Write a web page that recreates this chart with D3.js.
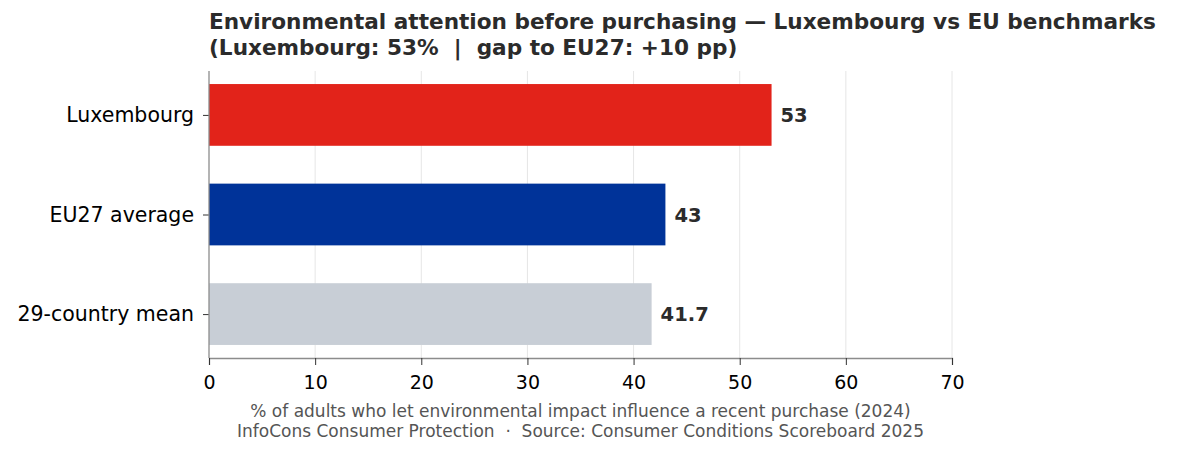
<!DOCTYPE html>
<html><head><meta charset="utf-8">
<script src="https://cdn.jsdelivr.net/npm/d3@7"></script>
<style>body{margin:0;background:#fff;} text{font-family:"DejaVu Sans",sans-serif;white-space:pre;}</style>
</head><body>
<svg id="chart" width="1186" height="456"></svg>
<script>
const categories = ["Luxembourg", "EU27 average", "29-country mean"];
const values = [53, 43, 41.7];
const valueLabels = ["53", "43", "41.7"];
const barColors = ["#e2231a", "#003399", "#c8ced6"];
const xTicks = [0, 10, 20, 30, 40, 50, 60, 70];
const titleLines = ["Environmental attention before purchasing \u2014 Luxembourg vs EU benchmarks", "(Luxembourg: 53%  |  gap to EU27: +10 pp)"];
const captionLines = ["% of adults who let environmental impact influence a recent purchase (2024)", "InfoCons Consumer Protection  \u00b7  Source: Consumer Conditions Scoreboard 2025"];

const svg = d3.select("#chart");
const L = 209, R = 952, T = 71, B = 358;
const x = d3.scaleLinear().domain([0, 70]).range([L, R]);
// categorical positions 0..2 with matplotlib-like margins
const yPos = d3.scaleLinear().domain([-0.441, 2.441]).range([T, B]);
const barH = yPos(0.31) - yPos(-0.31);

// grid
svg.append("g").selectAll("line").data(xTicks.slice(1)).join("line")
  .attr("x1", d => x(d)).attr("x2", d => x(d)).attr("y1", T).attr("y2", B)
  .attr("stroke", "#e6e6e6").attr("stroke-width", 1);

// bars
svg.append("g").selectAll("rect").data(values).join("rect")
  .attr("x", x(0)).attr("y", (d, i) => yPos(i) - barH / 2)
  .attr("width", d => x(d) - x(0)).attr("height", barH)
  .attr("fill", (d, i) => barColors[i]);

// value labels
svg.append("g").selectAll("text").data(values).join("text")
  .attr("x", d => x(d) + 9).attr("y", (d, i) => yPos(i))
  .attr("dy", "0.36em").attr("font-size", 19.5).attr("font-weight", "bold")
  .attr("fill", "#2b2b2b").text((d, i) => valueLabels[i]);

// x axis
const xAxis = d3.axisBottom(x).tickValues(xTicks).tickSize(7).tickPadding(11).tickFormat(d3.format("d"));
const gx = svg.append("g").attr("transform", `translate(0,${B})`).call(xAxis);
gx.select(".domain").attr("stroke", "#8c8c8c").attr("stroke-width", 1.3);
gx.selectAll(".tick line").attr("stroke", "#333");
gx.selectAll(".tick text").attr("font-size", 19).attr("fill", "#000").attr("font-family", "DejaVu Sans");

// y axis
const yBand = d3.scalePoint().domain(categories).range([yPos(0), yPos(2)]);
const yAxis = d3.axisLeft(yBand).tickSize(6).tickPadding(9);
const gy = svg.append("g").attr("transform", `translate(${L},0)`).call(yAxis);
gy.select(".domain").remove();
gy.selectAll(".tick line").attr("stroke", "#333");
gy.selectAll(".tick text").attr("font-size", 20.5).attr("fill", "#000").attr("font-family", "DejaVu Sans");
svg.append("line").attr("x1", L).attr("x2", L).attr("y1", T).attr("y2", B)
  .attr("stroke", "#8c8c8c").attr("stroke-width", 1.3);

// title (two lines)
svg.append("g").selectAll("text").data(titleLines).join("text")
  .attr("x", L).attr("y", (d, i) => 29 + i * 25.8)
  .attr("font-size", 21.6).attr("font-weight", "bold").attr("fill", "#2b2b2b")
  .text(d => d);

// caption (one text, two lines)
const caption = svg.append("text").attr("x", (L + R) / 2).attr("y", 417)
  .attr("text-anchor", "middle").attr("font-size", 17).attr("fill", "#555");
caption.selectAll("tspan").data(captionLines).join("tspan")
  .attr("x", (L + R) / 2).attr("dy", (d, i) => i === 0 ? 0 : 20).text(d => d);
</script>
</body></html>
